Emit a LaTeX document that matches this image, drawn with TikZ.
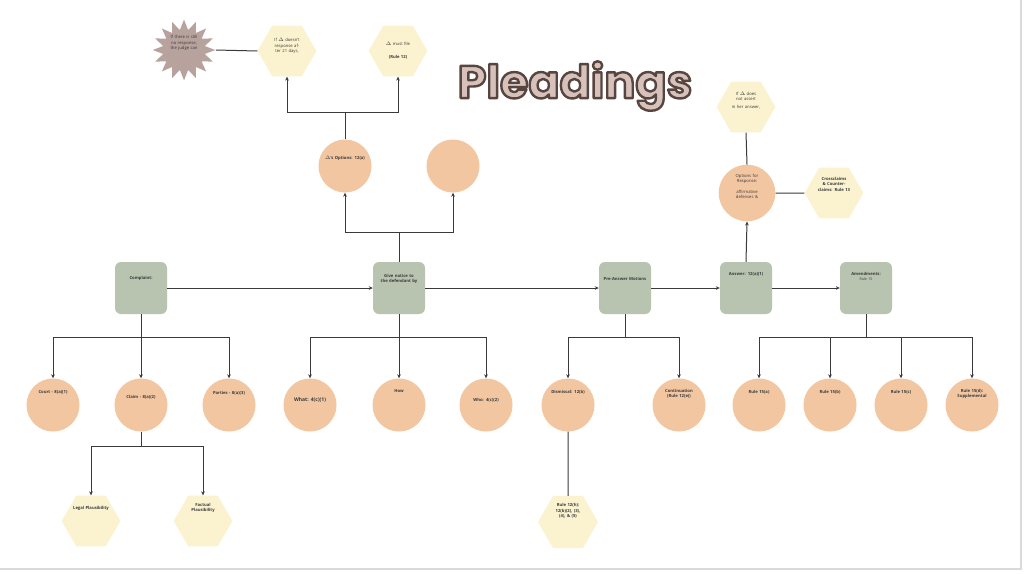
\documentclass[tikz,border=0pt]{standalone}
\usepackage{fontspec}
\setmainfont{Open Sans}
\newfontfamily\titlefont{Poppins}
\usetikzlibrary{shapes.geometric,shapes.symbols,arrows.meta}
\definecolor{sage}{HTML}{B8C3B0}
\definecolor{peach}{HTML}{F2C6A1}
\definecolor{cream}{HTML}{FBF2CF}
\definecolor{mauve}{HTML}{B7A29E}
\definecolor{linec}{HTML}{3A3A3A}
\definecolor{titlefill}{HTML}{D6C2BB}
\definecolor{txt}{HTML}{3A3A3A}
\definecolor{framec}{HTML}{DADADA}
\newcommand{\outlinedtitle}[1]{{\color{titlefill}\special{pdf:literal direct 0.35 0.27 0.25 RG 2.4 w 1 j 2 Tr}#1\special{pdf:literal direct 0 Tr}}}
\tikzset{
  small/.style={font=\fontsize{4.2}{5.2}\selectfont, text=txt},
  boxnode/.style={rectangle, rounded corners=6pt, fill=sage, minimum width=52pt,
    minimum height=52pt, inner sep=1pt, align=center, text width=46pt, small},
  circnode/.style={circle, fill=peach, minimum size=53pt, inner sep=0pt,
    align=center, text width=42pt, small},
  hexnode/.style={regular polygon, regular polygon sides=6, fill=cream,
    minimum size=57pt, inner sep=0pt, align=center, text width=36pt, small},
  burstnode/.style={starburst, starburst points=16, starburst point height=10pt,
    random starburst=0, fill=mauve, minimum width=60pt, minimum height=60pt,
    inner sep=0pt, align=center, text width=30pt, small},
  conn/.style={draw=linec, line width=1pt},
  arr/.style={conn, -{Stealth[length=4pt,width=3.6pt]}},
}
\begin{document}
\begin{tikzpicture}[x=1pt,y=-1pt]
\useasboundingbox (0,0) rectangle (1024,573);
\fill[white] (0,0) rectangle (1024,573);
\draw[framec, line width=1.2pt] (0,569) -- (1021,569) -- (1021,0);

% title
\node (title) at (575,86) {\titlefont\bfseries\fontsize{46}{52}\selectfont\outlinedtitle{Pleadings}};

% main row
\node[boxnode] (comp) at (141,288) {\textbf{Complaint:}\\[16pt]\mbox{}};
\node[boxnode] (gn) at (399,288) {\textbf{Give notice to the defendant by}\\[14pt]\mbox{}};
\node[boxnode] (pa) at (625,288) {\textbf{Pre-Answer Motions}\\[14pt]\mbox{}};
\node[boxnode] (ans) at (746,288) {\textbf{Answer: 12(a)(1)}\\[22pt]\mbox{}};
\node[boxnode] (amd) at (866,288) {\textbf{Amendments:}\\{\fontsize{3.6}{4.4}\selectfont Rule 15}\\[18pt]\mbox{}};

\draw[arr] (comp.east) -- (gn.west);
\draw[arr] (gn.east) -- (pa.west);
\draw[arr] (pa.east) -- (ans.west);
\draw[arr] (ans.east) -- (amd.west);

% top of give notice
\node[circnode] (opt) at (345,166) {\textbf{$\Delta$'s Options: 12(a)}\\[12pt]\mbox{}};
\node[circnode] (opt2) at (453,166) {};
\coordinate (tj) at (399,232);
\draw[conn] (gn.north) -- (tj);
\draw[arr] (tj) -| (opt.south);
\draw[arr] (tj) -| (opt2.south);

\node[hexnode] (h1) at (287,51) {If $\Delta$ doesn't response after 21 days,\\[6pt]\mbox{}};
\node[hexnode] (h2) at (398,51) {$\Delta$ must file\\[8pt]\textbf{(Rule 12)}};
\coordinate (oj) at (345,112);
\draw[conn] (opt.north) -- (oj);
\draw[arr] (oj) -| (h1.south);
\draw[arr] (oj) -| (h2.south);

\node[burstnode] (sb) at (184,50) {If there is still no response, the judge can\\[10pt]\mbox{}};
\draw[conn] (sb.east) -- (h1.west);

% answer branch
\node[circnode] (resp) at (747,193) {Options for Response:\\[6pt]affirmative defenses \&\\[8pt]\mbox{}};
\node[hexnode] (h3) at (746,107) {If $\Delta$ does not assert\\[3pt]in her answer,\\[8pt]\mbox{}};
\node[hexnode] (cc) at (834,193) {\textbf{Crossclaims \& Counterclaims: Rule 13}\\[12pt]\mbox{}};
\draw[arr] (ans.north) -- (resp.south);
\draw[conn] (resp.north) -- (h3.south);
\draw[conn] (resp.east) -- (cc.west);

% complaint children
\node[circnode] (court) at (53,405) {\textbf{Court - 8(a)(1)}\\[20pt]\mbox{}};
\node[circnode] (claim) at (141,405) {\textbf{Claim - 8(a)(2)}\\[12pt]\mbox{}};
\node[circnode] (part) at (229,405) {\textbf{Parties - 8(a)(3)}\\[20pt]\mbox{}};
\coordinate (cj) at (141,337);
\draw[conn] (comp.south) -- (cj);
\draw[arr] (cj) -| (court.north);
\draw[arr] (cj) -- (claim.north);
\draw[arr] (cj) -| (part.north);

\node[hexnode] (legal) at (91,521) {\textbf{Legal Plausibility}\\[22pt]\mbox{}};
\node[hexnode] (fact) at (203,521) {\textbf{Factual Plausibility}\\[22pt]\mbox{}};
\coordinate (lj) at (141,446);
\draw[conn] (claim.south) -- (lj);
\draw[arr] (lj) -| (legal.north);
\draw[arr] (lj) -| (fact.north);

% give notice children
\node[circnode] (what) at (310,405) {\textbf{\fontsize{5}{6}\selectfont What: 4(c)(1)}\\[6pt]\mbox{}};
\node[circnode] (how) at (399,405) {\textbf{How}\\[22pt]\mbox{}};
\node[circnode] (who) at (486,405) {\textbf{Who: 4(c)(2)}\\[6pt]\mbox{}};
\coordinate (gj) at (399,337);
\draw[conn] (gn.south) -- (gj);
\draw[arr] (gj) -| (what.north);
\draw[arr] (gj) -- (how.north);
\draw[arr] (gj) -| (who.north);

% pre-answer children
\node[circnode] (dis) at (568,405) {\textbf{Dismissal: 12(b)}\\[22pt]\mbox{}};
\node[circnode] (cont) at (679,405) {\textbf{Continuation}\\\textbf{(Rule 12(e))}\\[18pt]\mbox{}};
\coordinate (pj) at (625,337);
\draw[conn] (pa.south) -- (pj);
\draw[arr] (pj) -| (dis.north);
\draw[arr] (pj) -| (cont.north);

\node[hexnode] (r12h) at (568,522) {\textbf{Rule 12(h):}\\\textbf{12(b)(2), (3), (4), \& (5)}\\[18pt]\mbox{}};
\draw[conn] (dis.south) -- (r12h.north);

% amendments children
\node[circnode] (ra) at (759,405) {\textbf{Rule 15(a)}\\[22pt]\mbox{}};
\node[circnode] (rb) at (830,405) {\textbf{Rule 15(b)}\\[22pt]\mbox{}};
\node[circnode] (rc) at (901,405) {\textbf{Rule 15(c)}\\[22pt]\mbox{}};
\node[circnode] (rd) at (972,405) {\textbf{Rule 15(d):}\\\textbf{Supplemental}\\[18pt]\mbox{}};
\coordinate (aj) at (866,337);
\draw[conn] (amd.south) -- (aj);
\draw[arr] (aj) -| (ra.north);
\draw[arr] (aj) -| (rb.north);
\draw[arr] (aj) -| (rc.north);
\draw[arr] (aj) -| (rd.north);
\end{tikzpicture}
\end{document}
